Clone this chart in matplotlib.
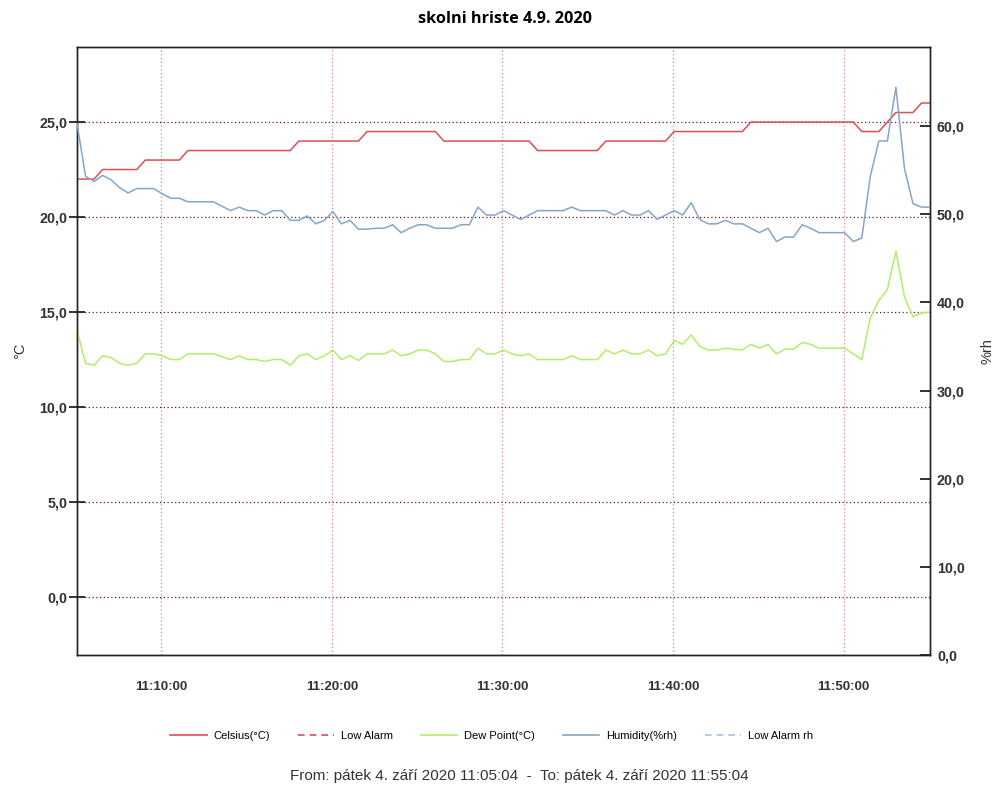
import numpy as np
import matplotlib
matplotlib.use("Agg")
import matplotlib.pyplot as plt
import matplotlib.dates as mdates
from matplotlib.lines import Line2D
from matplotlib.ticker import FuncFormatter, FixedLocator
import datetime as dt

# ---- data (30 s samples from 11:05:04 to 11:55:04) ----
start_time = "2020-09-04 11:05:04"
end_time = "2020-09-04 11:55:04"
sample_seconds = 30

celsius = ([22.0] * 3 + [22.5] * 5 + [23.0] * 5 + [23.5] * 13 + [24.0] * 8 +
           [24.5] * 9 + [24.0] * 11 + [23.5] * 8 + [24.0] * 8 + [24.5] * 9 +
           [25.0] * 13 + [24.5] * 3 + [25.0] + [25.5] * 3 + [26.0] * 2)

dew_point = [14.05, 12.3, 12.2, 12.7, 12.6, 12.3, 12.2, 12.3, 12.8, 12.8,
             12.7, 12.5, 12.5, 12.8, 12.8, 12.8, 12.8, 12.65, 12.5, 12.7,
             12.5, 12.5, 12.4, 12.5, 12.5, 12.2, 12.7, 12.8, 12.5, 12.7,
             13.0, 12.5, 12.7, 12.45, 12.8, 12.8, 12.8, 13.0, 12.7, 12.8,
             13.0, 13.0, 12.8, 12.4, 12.4, 12.5, 12.5, 13.1, 12.8, 12.8,
             13.0, 12.8, 12.7, 12.8, 12.5, 12.5, 12.5, 12.5, 12.7, 12.5,
             12.5, 12.5, 13.0, 12.8, 13.0, 12.8, 12.8, 13.0, 12.7, 12.8,
             13.5, 13.3, 13.8, 13.2, 13.0, 13.0, 13.1, 13.05, 13.0, 13.3,
             13.1, 13.3, 12.8, 13.05, 13.05, 13.4, 13.3, 13.1, 13.1, 13.1,
             13.1, 12.8, 12.5, 14.7, 15.6, 16.2, 18.2, 15.8, 14.75, 14.95,
             15.0]

humidity = [60.3, 54.3, 53.7, 54.4, 53.9, 53.0, 52.4, 52.9, 52.9, 52.9,
            52.3, 51.8, 51.8, 51.4, 51.4, 51.4, 51.4, 50.9, 50.4, 50.8,
            50.4, 50.4, 49.9, 50.4, 50.4, 49.3, 49.3, 49.8, 48.9, 49.3,
            50.3, 48.9, 49.3, 48.3, 48.3, 48.4, 48.4, 48.8, 47.9, 48.4,
            48.8, 48.8, 48.4, 48.4, 48.4, 48.8, 48.8, 50.8, 49.9, 49.9,
            50.4, 49.9, 49.4, 49.9, 50.4, 50.4, 50.4, 50.4, 50.8, 50.4,
            50.4, 50.4, 50.4, 49.9, 50.4, 49.9, 49.9, 50.4, 49.4, 49.9,
            50.4, 49.9, 51.3, 49.4, 48.9, 48.9, 49.3, 48.9, 48.9, 48.4,
            47.9, 48.4, 46.9, 47.4, 47.4, 48.8, 48.4, 47.9, 47.9, 47.9,
            47.9, 46.9, 47.3, 54.3, 58.3, 58.3, 64.4, 55.2, 51.2, 50.8,
            50.8]

legend_labels = ["Celsius(°C)", "Low Alarm", "Dew Point(°C)", "Humidity(%rh)", "Low Alarm rh"]
title_text = "skolni hriste 4.9. 2020"
footer_text = "From: pátek 4. září 2020 11:05:04  -  To: pátek 4. září 2020 11:55:04"
left_ticks = [0, 5, 10, 15, 20, 25]
right_ticks = [0, 10, 20, 30, 40, 50, 60]

# ---- build time axis ----
t0 = dt.datetime.strptime(start_time, "%Y-%m-%d %H:%M:%S")
t1 = dt.datetime.strptime(end_time, "%Y-%m-%d %H:%M:%S")
times = [t0 + dt.timedelta(seconds=sample_seconds * i) for i in range(len(humidity))]

c_red = "#dc4f54"
c_green = "#b2ee6a"
c_blue = "#86a6c6"
c_blue_l = "#a9c4e0"

fig = plt.figure(figsize=(9.95, 7.87), dpi=100)
ax = fig.add_axes([0.0774, 0.1677, 0.8573, 0.7726])
ax2 = ax.twinx()

ax.plot(times, celsius, color=c_red, lw=1.1, zorder=3)
ax.plot(times, dew_point, color=c_green, lw=1.1, zorder=3)
ax2.plot(times, humidity, color=c_blue, lw=1.1, zorder=3)

ax.set_xlim(t0, t1)
ax.set_ylim(-3.05, 28.95)
ax2.set_ylim(0, 68.96)

comma = FuncFormatter(lambda v, p: f"{v:.1f}".replace(".", ","))
ax.yaxis.set_major_locator(FixedLocator(left_ticks))
ax.yaxis.set_major_formatter(comma)
ax2.yaxis.set_major_locator(FixedLocator(right_ticks))
ax2.yaxis.set_major_formatter(comma)

ax.xaxis.set_major_locator(mdates.MinuteLocator(byminute=[0, 10, 20, 30, 40, 50]))
ax.xaxis.set_major_formatter(mdates.DateFormatter("%H:%M:%S"))

for lab in ax.get_yticklabels() + ax2.get_yticklabels() + ax.get_xticklabels():
    lab.set_fontfamily("Liberation Sans")
    lab.set_fontweight("bold")
    lab.set_fontsize(10.3)
    lab.set_color("#333333")
for lab in ax.get_xticklabels():
    lab.set_fontsize(9.5)

ax.tick_params(axis="y", direction="inout", length=12, width=1.3, color="#222222", pad=1)
ax2.tick_params(axis="y", direction="in", length=7, width=1.3, color="#222222", pad=5)
ax.tick_params(axis="x", length=0, pad=19)

# grid
ax.grid(axis="y", color="#6a1a1a", linestyle=(0, (1, 2)), linewidth=0.9, zorder=1)
ax.grid(axis="x", color="#d08a8a", linestyle=(0, (1, 2)), linewidth=0.9, zorder=1)
ax.set_axisbelow(True)

for a in (ax, ax2):
    for s in a.spines.values():
        s.set_color("#222222")
        s.set_linewidth(1.0)

ax.set_ylabel("°C", fontfamily="Liberation Sans", fontsize=10.5, labelpad=9, color="#333333")
ax2.set_ylabel("%rh", fontfamily="Liberation Sans", fontsize=10.5, labelpad=11, color="#333333")

fig.text(0.508, 0.976, title_text, ha="center", va="center",
         fontfamily="Open Sans", fontweight="bold", fontsize=11.7)

handles = [
    Line2D([], [], color=c_red, lw=1.2),
    Line2D([], [], color=c_red, lw=1.2, ls=(0, (4, 3))),
    Line2D([], [], color=c_green, lw=1.2),
    Line2D([], [], color=c_blue, lw=1.2),
    Line2D([], [], color=c_blue_l, lw=1.2, ls=(0, (4, 3))),
]
fig.legend(handles, legend_labels, loc="center", bbox_to_anchor=(0.494, 0.065), ncol=5,
           frameon=False, prop=dict(family="Liberation Sans", size=8), handlelength=3.3,
           columnspacing=2.5, handletextpad=0.6)

fig.text(0.522, 0.014, footer_text, ha="center", va="center",
         fontfamily="Liberation Sans", fontsize=11, color="#333333")

fig.savefig("out.png", dpi=100)
